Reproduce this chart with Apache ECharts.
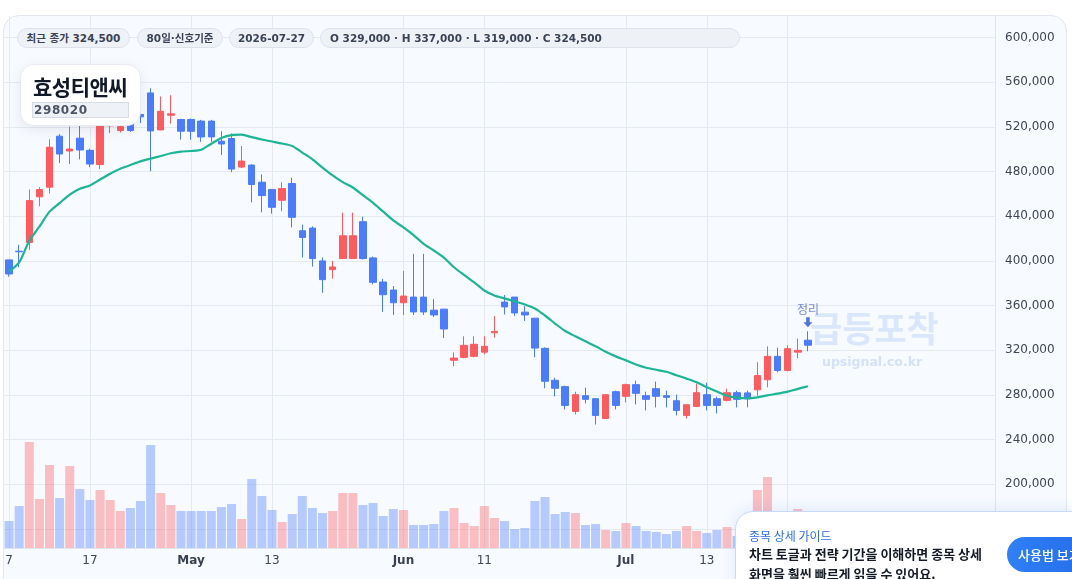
<!DOCTYPE html>
<html>
<head>
<meta charset="utf-8">
<script src="https://cdn.jsdelivr.net/npm/echarts@6/dist/echarts.min.js"></script>
<style>
html,body{margin:0;padding:0;background:#ffffff;width:1072px;height:579px;overflow:hidden;font-family:"DejaVu Sans","Noto Sans CJK KR",sans-serif;}
#card{position:absolute;left:3px;top:15px;width:1064px;height:640px;border:1px solid #e2e7ef;border-radius:16px;background:#f7faff;box-sizing:border-box;}
#chart{position:absolute;left:0;top:0;width:1072px;height:579px;}
.badge{position:absolute;top:28px;height:20px;line-height:18px;box-sizing:border-box;border:1px solid #dde2ea;background:#eef1f6;border-radius:10px;font-weight:bold;font-size:10.5px;color:#3a4353;text-align:center;white-space:nowrap;}
#titlebox{position:absolute;left:20px;top:64px;width:121px;height:62px;background:#ffffff;border:1px solid #e8ecf2;border-radius:14px;box-sizing:border-box;box-shadow:0 4px 14px rgba(15,23,42,0.08);}
#tname{position:absolute;left:12px;top:6px;font-size:21px;font-weight:bold;color:#111827;font-family:"Noto Sans CJK KR",sans-serif;letter-spacing:-0.5px;}
#tcode{position:absolute;left:11px;top:37px;width:97px;height:16px;box-sizing:border-box;border:1px solid #d5dbe4;background:#eef1f5;font-size:12px;font-weight:bold;color:#4b5563;line-height:14px;padding-left:1px;letter-spacing:0.6px;}
#guide{position:absolute;left:735px;top:511px;width:420px;height:120px;background:#ffffff;border:1px solid #c9d8fa;border-radius:18px;box-sizing:border-box;box-shadow:0 -3px 14px rgba(37,99,235,0.10);}
#gtitle{position:absolute;left:13px;top:15px;font-size:12px;color:#2f6ee6;font-family:"Noto Sans CJK KR",sans-serif;}
#gtext{position:absolute;left:13px;top:32px;width:260px;font-size:13px;line-height:20px;font-weight:600;color:#151b26;font-family:"Noto Sans CJK KR",sans-serif;white-space:nowrap;}
#gbtn{position:absolute;left:271px;top:25px;width:140px;height:35px;border-radius:18px;background:linear-gradient(90deg,#2f80f7,#1f5fe0);color:#fff;font-size:13px;line-height:35px;padding-left:11px;box-sizing:border-box;font-family:"Noto Sans CJK KR",sans-serif;font-weight:500;}
</style>
</head>
<body>
<div id="card"></div>
<div id="chart"></div>
<div class="badge" style="left:17px;width:113px;">최근 종가 324,500</div>
<div class="badge" style="left:137px;width:86px;">80일·신호기준</div>
<div class="badge" style="left:229px;width:85px;">2026-07-27</div>
<div class="badge" style="left:320px;width:420px;text-align:left;padding-left:9px;">O 329,000 · H 337,000 · L 319,000 · C 324,500</div>
<div id="titlebox"><div id="tname">효성티앤씨</div><div id="tcode">298020</div></div>
<div id="guide">
  <div id="gtitle">종목 상세 가이드</div>
  <div id="gtext">차트 토글과 전략 기간을 이해하면 종목 상세<br>화면을 훨씬 빠르게 읽을 수 있어요.</div>
  <div id="gbtn">사용법 보기</div>
</div>
<script>
// ---- data ----
const dates = [
 '2026-04-07','2026-04-08','2026-04-09','2026-04-10','2026-04-13','2026-04-14','2026-04-15','2026-04-16','2026-04-17','2026-04-20',
 '2026-04-21','2026-04-22','2026-04-23','2026-04-24','2026-04-27','2026-04-28','2026-04-29','2026-04-30','2026-05-01','2026-05-04',
 '2026-05-05','2026-05-06','2026-05-07','2026-05-08','2026-05-11','2026-05-12','2026-05-13','2026-05-14','2026-05-15','2026-05-18',
 '2026-05-19','2026-05-20','2026-05-21','2026-05-22','2026-05-25','2026-05-26','2026-05-27','2026-05-28','2026-05-29','2026-06-01',
 '2026-06-02','2026-06-03','2026-06-04','2026-06-05','2026-06-08','2026-06-09','2026-06-10','2026-06-11','2026-06-12','2026-06-15',
 '2026-06-16','2026-06-17','2026-06-18','2026-06-19','2026-06-22','2026-06-23','2026-06-24','2026-06-25','2026-06-26','2026-06-29',
 '2026-06-30','2026-07-01','2026-07-02','2026-07-03','2026-07-06','2026-07-07','2026-07-08','2026-07-09','2026-07-10','2026-07-13',
 '2026-07-14','2026-07-15','2026-07-16','2026-07-17','2026-07-20','2026-07-21','2026-07-22','2026-07-23','2026-07-24','2026-07-27'
];
const openP = [
 400900,408700,416500,457400,466000,511700,498400,509900,499000,486300,
 521000,516800,523500,531100,550400,517300,530400,526600,526600,525200,
 525200,507200,509600,484000,485800,470500,463900,454300,469300,427000,
 429400,400000,392200,402100,402100,435100,402700,381100,373900,362500,
 367600,367600,355900,356800,311000,313600,314500,318300,335600,363100,
 367600,354100,348700,321700,293100,287400,265200,279300,276600,258900,
 282900,278700,289200,279300,285600,279300,274800,261600,269700,280200,
 276600,275100,282000,281800,284500,293500,314500,301800,318300,329000
];
const highP = [
 401000,414400,463900,466000,509000,513500,520300,520900,500500,530000,
 534000,527000,528200,533000,554600,547300,548300,527200,527500,526300,
 526300,516100,514100,502900,486400,477400,463900,470500,474500,432400,
 430900,403000,400000,443200,443200,439600,403900,383800,377500,391000,
 406300,406300,365800,356800,318100,332500,332500,332500,350500,369400,
 367600,359500,348700,322600,295300,288300,282900,286500,276600,280200,
 283800,290100,292800,282900,291900,283800,280200,271200,290100,291000,
 278400,285600,283800,283800,309300,323500,322300,324400,330400,337000
];
const lowP = [
 385900,394300,409900,448900,460300,487600,486700,490900,483900,482200,
 514500,515000,515500,523500,480400,517000,522900,508600,508600,506600,
 506600,494800,479500,483100,452500,443500,442300,444400,430000,403000,
 394900,371500,384100,402100,402100,401200,379000,354300,351600,351600,
 351600,351600,349800,330900,305500,312700,313600,316300,331300,352000,
 350700,346200,313800,285900,278700,267000,262500,272400,253500,258900,
 267000,273300,271500,266100,268800,268800,261600,258900,269700,266100,
 263400,274200,268800,268800,279300,286800,300300,301200,312900,319000
];
const closeP = [
 388300,408200,454000,463900,501800,495700,500200,499300,486700,524000,
 525000,520200,516800,529000,516400,533900,531700,516100,516100,511000,
 511000,504700,482200,489400,468400,458500,448000,464800,439000,421000,
 402100,383200,394600,422500,422500,402100,380800,369700,362500,368500,
 354300,354300,351600,339000,313000,324400,325300,323500,336800,358800,
 353400,351600,321900,292200,285900,270600,280200,276000,261600,280200,
 270600,289200,281400,276000,278700,277800,266100,271200,282000,270600,
 270600,282000,276000,276400,297300,314500,301800,321400,319900,324500
];
const maLine = [
 390400,398600,418000,430600,444100,451800,459400,464600,467500,472900,
 478100,482600,485800,489100,491600,493900,496400,497900,498400,499500,
 504900,510100,512700,513000,510800,508700,506900,505100,502900,497000,
 491000,483500,476500,470500,465700,458800,452000,444100,436300,430000,
 423100,415300,409300,403000,394300,387400,380800,373500,369100,366400,
 363700,361000,357400,351100,343900,337200,332500,328000,323500,318700,
 314500,310900,307200,304300,302500,300700,297600,294600,291300,286800,
 283000,279300,277500,277000,277800,279600,281100,282900,285400,287700
];
const volume = [
 27000,42000,106000,49000,83000,50000,82000,59000,48000,58000,
 48000,37000,40000,47000,103000,55000,43000,37000,37000,37000,
 37000,41000,44000,29000,69000,52000,38000,26000,34000,52000,
 40000,35000,37000,55000,55000,43000,45000,32000,39000,38000,
 23000,23000,24000,37000,40000,25000,22000,42000,30000,27000,
 19000,20000,47000,51000,34000,36000,35000,23000,24000,18000,
 17000,25000,22000,17000,16000,14000,17000,22000,17000,15000,
 18000,21000,12000,12000,58000,71000,30000,35000,39000,28000
];
const labelIdx = [0, 8, 18, 26, 39, 47, 61, 69, 77];
const priceTicks = [160000,200000,240000,280000,320000,360000,400000,440000,480000,520000,560000,600000];
const monthNames = ['Jan','Feb','Mar','Apr','May','Jun','Jul','Aug','Sep','Oct','Nov','Dec'];
const futureSlots = 18;
const signalText = '정리';

// ---- build ----
const UP = '#ff5b5f', DOWN = '#4a7cff';
const cats = dates.concat(new Array(futureSlots).fill(''));
const candle = dates.map((d, i) => [openP[i], closeP[i], lowP[i], highP[i]]);
const volData = volume.map((v, i) => ({
  value: v,
  itemStyle: { color: closeP[i] >= openP[i] ? 'rgba(255,91,95,0.38)' : 'rgba(74,124,255,0.38)' }
}));
const showIdx = (i) => labelIdx.indexOf(i) >= 0;
const last = dates.length - 1;

const chart = echarts.init(document.getElementById('chart'), null, { renderer: 'canvas' });
chart.setOption({
  backgroundColor: 'transparent',
  animation: false,
  textStyle: { fontFamily: '"DejaVu Sans","Noto Sans CJK KR",sans-serif' },
  grid: { left: 4, right: 77, top: 16, bottom: 31, containLabel: false },
  xAxis: {
    type: 'category',
    data: cats,
    boundaryGap: true,
    axisLine: { show: true, lineStyle: { color: '#dfe5ee' } },
    axisTick: { show: false, interval: showIdx, alignWithLabel: true },
    axisLabel: {
      interval: showIdx,
      color: '#3f4756',
      fontSize: 12,
      margin: 7,
      formatter: function (v, i) {
        if (!v) return '';
        const m = parseInt(v.slice(5, 7), 10);
        const d = parseInt(v.slice(8, 10), 10);
        const prev = i > 0 ? dates[i - 1] : null;
        if (prev && prev.slice(5, 7) !== v.slice(5, 7)) return '{b|' + monthNames[m - 1] + '}';
        return String(d);
      },
      rich: { b: { fontWeight: 'bold', color: '#3a4150', fontSize: 12 } }
    },
    splitLine: { show: true, interval: showIdx, alignWithLabel: true, lineStyle: { color: '#e5eaf1', width: 1 } }
  },
  yAxis: [
    {
      type: 'value',
      position: 'right',
      min: 142900,
      max: 619300,
      axisLine: { show: true, lineStyle: { color: '#dfe5ee' } },
      axisTick: { show: false, customValues: priceTicks },
      axisLabel: {
        customValues: priceTicks,
        color: '#3f4756',
        fontSize: 12,
        margin: 10,
        formatter: (v) => Number(v).toLocaleString('en-US')
      },
      splitLine: { show: true, lineStyle: { color: '#e5eaf1', width: 1 } }
    },
    { type: 'value', min: 0, max: 532000, show: false, splitLine: { show: false } }
  ],
  graphic: [
    { type: 'text', left: 810, top: 311, z: 0, silent: true,
      style: { text: '급등포착', font: 'bold 35px "Noto Sans CJK KR"', fill: 'rgba(120,160,235,0.22)' } },
    { type: 'text', left: 822, top: 356, z: 0, silent: true,
      style: { text: 'upsignal.co.kr', font: 'bold 12.5px "DejaVu Sans"', fill: 'rgba(120,160,235,0.28)' } }
  ],
  series: [
    {
      name: 'volume', type: 'bar', yAxisIndex: 1, data: volData,
      barWidth: 9, z: 1, silent: true
    },
    {
      name: 'price', type: 'candlestick', data: candle, barWidth: 7, z: 3,
      itemStyle: { color: UP, color0: DOWN, borderColor: UP, borderColor0: DOWN, borderWidth: 1 }
    },
    {
      name: 'MA', type: 'line', data: maLine, smooth: 0.25, showSymbol: false, symbol: 'none', z: 4,
      lineStyle: { color: '#1cb596', width: 2.2 }
    },
    {
      name: 'signal', type: 'scatter', z: 5,
      data: [[last, highP[last]]],
      symbol: 'path://M3,0 L7,0 L7,5 L10,5 L5,10 L0,5 L3,5 Z',
      symbolSize: [9, 10],
      symbolOffset: [0, -9],
      itemStyle: { color: '#2453d6' },
      label: { show: true, position: 'top', distance: 2, formatter: signalText, color: '#4f6fc9', fontSize: 12, fontFamily: '"Noto Sans CJK KR"' }
    }
  ]
});
</script>
</body>
</html>
